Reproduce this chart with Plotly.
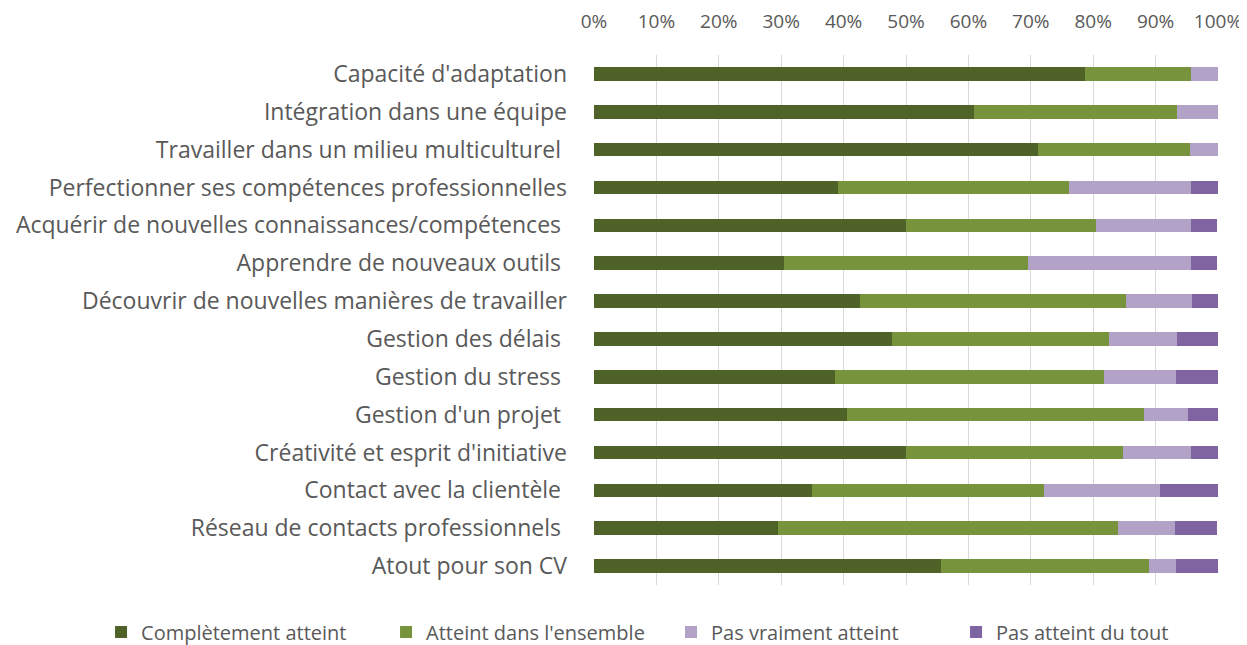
import plotly.graph_objects as go

categories = [
    "Capacité d'adaptation",
    "Intégration dans une équipe",
    "Travailler dans un milieu multiculturel\u00a0",
    "Perfectionner ses compétences professionnelles",
    "Acquérir de nouvelles connaissances/compétences\u00a0",
    "Apprendre de nouveaux outils\u00a0",
    "Découvrir de nouvelles manières de travailler",
    "Gestion des délais\u00a0",
    "Gestion du stress\u00a0",
    "Gestion d'un projet\u00a0",
    "Créativité et esprit d'initiative",
    "Contact avec la clientèle\u00a0",
    "Réseau de contacts professionnels\u00a0",
    "Atout pour son CV",
]

completement = [78.7, 60.9, 71.1, 39.1, 50.0, 30.4, 42.6, 47.8, 38.6, 40.5, 50.0, 34.9, 29.5, 55.6]
ensemble     = [17.0, 32.6, 24.4, 37.0, 30.4, 39.1, 42.6, 34.8, 43.2, 47.6, 34.8, 37.2, 54.5, 33.3]
pas_vraiment = [4.3, 6.5, 4.5, 19.6, 15.2, 26.1, 10.6, 10.9, 11.4, 7.1, 10.9, 18.6, 9.1, 4.4]
pas_du_tout  = [0.0, 0.0, 0.0, 4.3, 4.3, 4.3, 4.3, 6.5, 6.8, 4.8, 4.3, 9.3, 6.8, 6.7]

series = [
    ("Complètement atteint", completement, "#4F6228"),
    ("Atteint dans l'ensemble", ensemble, "#77933C"),
    ("Pas vraiment atteint", pas_vraiment, "#B3A2C7"),
    ("Pas atteint du tout", pas_du_tout, "#8064A2"),
]

tick_vals = [0, 10, 20, 30, 40, 50, 60, 70, 80, 90, 100]
tick_text = ["0%", "10%", "20%", "30%", "40%", "50%", "60%", "70%", "80%", "90%", "100%"]

fig = go.Figure()
for name, vals, color in series:
    fig.add_trace(go.Bar(
        y=categories, x=vals, name=name, orientation="h",
        marker=dict(color=color, line=dict(width=0)),
    ))

# page has an 8px body margin: figure is sized/placed so the plot area lands
# at the reference position in the 1247x645 window
fig.update_layout(
    barmode="stack",
    bargap=0.64,
    width=1239, height=637,
    margin=dict(l=586, r=29, t=47, b=60, autoexpand=False),
    plot_bgcolor="white", paper_bgcolor="white",
    font=dict(family="Open Sans, sans-serif", color="#595959", size=18),
    legend=dict(
        orientation="h", xref="paper", yref="paper",
        x=-0.79, xanchor="left", y=-0.052, yanchor="top",
        font=dict(size=20, color="#595959"),
        itemwidth=30, traceorder="normal",
        entrywidth=240, entrywidthmode="pixels",
    ),
    showlegend=True,
)
fig.update_xaxes(
    side="top", range=[0, 100], tickvals=tick_vals, ticktext=tick_text,
    showgrid=True, gridcolor="#D9D9D9", gridwidth=1, zeroline=False,
    showline=False, ticks="", ticklabelstandoff=22, automargin=False,
    tickfont=dict(size=19, color="#595959"),
)
fig.update_yaxes(
    autorange="reversed", showgrid=False, showline=False, ticks="",
    ticklabelstandoff=26, automargin=False,
    tickfont=dict(size=23, color="#595959"),
)

fig.write_html("out.html")
